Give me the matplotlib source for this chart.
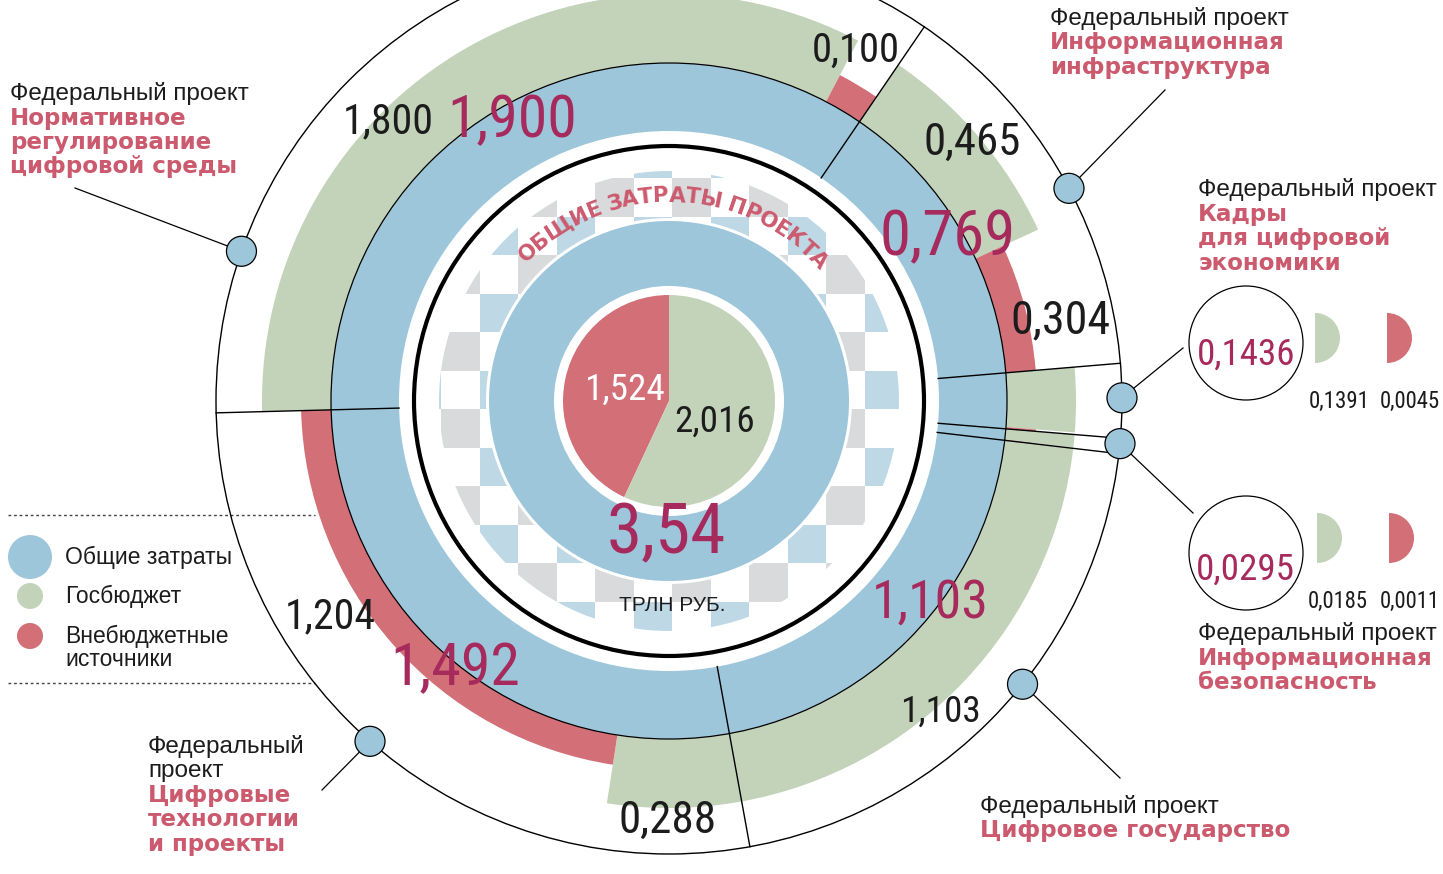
import numpy as np
import matplotlib
matplotlib.use("Agg")
import matplotlib.pyplot as plt
from matplotlib.patches import Wedge, Circle, Rectangle
from matplotlib.font_manager import FontProperties, fontManager

# ---- data ----
project_names = [
    ["Нормативное", "регулирование", "цифровой среды"],
    ["Информационная", "инфраструктура"],
    ["Кадры", "для цифровой", "экономики"],
    ["Информационная", "безопасность"],
    ["Цифровое государство"],
    ["Цифровые", "технологии", "и проекты"],
]
totals = [1.900, 0.769, 0.1436, 0.0295, 1.103, 1.492]
budget = [1.800, 0.465, 0.1391, 0.0185, 1.103, 0.288]
extra = [0.100, 0.304, 0.0045, 0.0011, 0.0, 1.204]
total_labels = ["1,900", "0,769", "0,1436", "0,0295", "1,103", "1,492"]
budget_labels = ["1,800", "0,465", "0,1391", "0,0185", "1,103", "0,288"]
extra_labels = ["0,100", "0,304", "0,0045", "0,0011", "", "1,204"]
grand_total = 3.54
grand_budget = 2.016
grand_extra = 1.524
grand_labels = ["3,54", "2,016", "1,524"]
legend_labels = [["Общие затраты"], ["Госбюджет"], ["Внебюджетные", "источники"]]

# ---- style ----
BLUE = "#9dc6db"
GREEN = "#c3d3ba"
RED = "#d26f77"
MAGENTA = "#a62a5c"
LABEL_RED = "#cc5a6e"
INK = "#1c1c1c"
CHECK_GREY = "#d9dadc"
CHECK_BLUE = "#bed8e5"

W, H = 1443, 874
CX, CY = 669, 401
R_OUT = 453
R_BLUE_IN, R_BLUE_OUT = 270, 338
R_GREEN, R_RED = 407, 368
START = 181.5


def pick_condensed():
    names = {f.name for f in fontManager.ttflist}
    for n in ["Liberation Sans Narrow", "Roboto Condensed", "Open Sans Condensed"]:
        if n in names:
            return dict(family=n)
    for f in fontManager.ttflist:
        if f.name == "DejaVu Sans" and f.stretch == "condensed":
            return dict(family="DejaVu Sans", stretch="condensed")
    return dict(family="DejaVu Sans")


NUMFONT = pick_condensed()
SANS = "Liberation Sans"
BOLD = "DejaVu Sans"

fig = plt.figure(figsize=(W / 100, H / 100), dpi=100)
ax = fig.add_axes([0, 0, 1, 1])
ax.set_xlim(0, W)
ax.set_ylim(H, 0)
ax.set_aspect("equal")
ax.axis("off")
renderer = fig.canvas.get_renderer()


def pt(a, r):
    a = np.radians(a)
    return CX + r * np.cos(a), CY - r * np.sin(a)


def seg(a_hi, a_lo, r, width, color, z):
    # visual angles (counter-clockwise, y up) -> data angles with flipped y
    ax.add_patch(Wedge((CX, CY), r, -a_hi, -a_lo, width=width, fc=color, ec="none", zorder=z))


def num(x, base, s, h, w, color=INK, z=10, slack=1.3):
    t = ax.text(x, base, s, ha="center", va="baseline", fontsize=h, color=color, zorder=z, **NUMFONT)
    bw = t.get_window_extent(renderer).width
    if bw > w * slack:
        t.set_fontsize(h * w * slack / bw)
    return t


# ---- checker decoration ----
clip = Circle((CX, CY), 230, transform=ax.transData)
for i in range(-7, 14):
    for j in range(-8, 9):
        if (i + j) % 2:
            continue
        r = Rectangle((441 + 38.5 * i, 332 + 38.5 * j), 38.5, 38.5,
                      fc=CHECK_GREY if i % 2 == 0 else CHECK_BLUE, ec="none", zorder=1)
        ax.add_patch(r)
        r.set_clip_path(clip)

# inner disc + pie
ax.add_patch(Circle((CX, CY), 183, fc="white", ec="none", zorder=2))
ax.add_patch(Circle((CX, CY), 180, fc=BLUE, ec="none", zorder=2))
ax.add_patch(Circle((CX, CY), 115, fc="white", ec="none", zorder=3))
red_span = grand_extra / (grand_extra + grand_budget) * 360
seg(90 + red_span, 90, 106, 106, RED, 4)
seg(90, 90 + red_span - 360, 106, 106, GREEN, 4)

# thick black ring
ax.add_patch(Circle((CX, CY), 255, fc="none", ec="black", lw=3, zorder=5))

# blue ring
ax.add_patch(Wedge((CX, CY), R_BLUE_OUT, 0, 360, width=R_BLUE_OUT - R_BLUE_IN, fc=BLUE, ec="none", zorder=5))

# sectors
unit = 360.0 / sum(totals)
bounds = [START]
a = START
for i, t in enumerate(totals):
    a_next = a - t * unit
    g = budget[i] / (budget[i] + extra[i])
    a_g = a - (a - a_next) * g
    seg(a, a_g, R_GREEN, R_GREEN - R_BLUE_OUT, GREEN, 5)
    if extra[i] > 0:
        seg(a_g, a_next, R_RED, R_RED - R_BLUE_OUT, RED, 5)
    bounds.append(a_next)
    a = a_next

ax.add_patch(Circle((CX, CY), R_BLUE_OUT, fc="none", ec="black", lw=0.9, zorder=6))
ax.add_patch(Circle((CX, CY), R_OUT, fc="none", ec="black", lw=1.0, zorder=6))
for b in bounds[:-1]:
    x0, y0 = pt(b, R_BLUE_IN)
    x1, y1 = pt(b, R_OUT)
    ax.plot([x0, x1], [y0, y1], color="black", lw=1.0, zorder=6)

# curved title
arc_txt = "ОБЩИЕ ЗАТРАТЫ ПРОЕКТА"
fp = FontProperties(family=BOLD, weight="bold", size=15.5)
ws = []
for ch in arc_txt:
    if ch == " ":
        ws.append(fp.get_size_in_points() * 100 / 72 * 0.3)
    else:
        ws.append(renderer.get_text_width_height_descent(ch, fp, ismath=False)[0])
r_arc = 199
r_mid = r_arc + 8
a0, a1 = 136, 41
arc_len = np.radians(a0 - a1) * r_mid
gap = (arc_len - sum(ws)) / (len(arc_txt) - 1)
pos = 0
for ch, w in zip(arc_txt, ws):
    c = pos + w / 2
    ang = a0 - np.degrees(c / r_mid)
    x, y = pt(ang, r_arc)
    ax.text(x, y, ch, fontproperties=fp, color=LABEL_RED, ha="center", va="baseline",
            rotation=ang - 90, rotation_mode="anchor", zorder=7)
    pos += w + gap

# centre numbers
num(624, 400, grand_labels[2], 35, 62, color="white")
num(715, 432, grand_labels[1], 37, 62)
num(666, 553, grand_labels[0], 66, 92, color=MAGENTA)
ax.text(672, 611, "ТРЛН РУБ.", ha="center", va="baseline", fontsize=15, family=SANS, color=INK, zorder=10)

# ring labels  (x, baseline, digit height, width, slack)
total_pos = [(512, 137, 59, 100, 1.3), (948, 255, 60, 105, 1.3), (1246, 365, 47, 88, 1.12),
             (1245, 580, 45, 90, 1.1), (930, 618, 60, 90, 1.3), (455, 685, 60, 100, 1.3)]
budget_pos = [(388, 133, 40, 70, 1.3), (972, 155, 40, 75, 1.3), (1339, 408, 25, 53, 1.15),
              (1338, 608, 25, 55, 1.1), (940, 722, 40, 62, 1.3), (668, 833, 40, 75, 1.3)]
extra_pos = [(856, 62, 40, 68, 1.3), (1060, 333, 41, 77, 1.3), (1410, 408, 25, 58, 1.05),
             (1410, 608, 25, 55, 1.1), None, (330, 628, 40, 70, 1.3)]
for i in range(len(totals)):
    x, y, h, w, s = total_pos[i]
    num(x, y, total_labels[i], h, w, color=MAGENTA, slack=s)
    x, y, h, w, s = budget_pos[i]
    num(x, y, budget_labels[i], h, w, slack=s)
    if extra_labels[i]:
        x, y, h, w, s = extra_pos[i]
        num(x, y, extra_labels[i], h, w, slack=s)

# small-project callouts
for (cx, cy), (gx, gy) in [((1246, 343), (1315, 338)), ((1246, 553), (1317, 538))]:
    ax.add_patch(Circle((cx, cy), 57, fc="none", ec="black", lw=0.9, zorder=8))
    ax.add_patch(Wedge((gx, gy), 25, -90, 90, fc=GREEN, ec="none", zorder=8))
    ax.add_patch(Wedge((gx + 72, gy), 25, -90, 90, fc=RED, ec="none", zorder=8))

# markers, leaders, project labels
marker_ang = [160.7, 28.0, 0.4, -5.4, -38.7, -131.3]
leader_end = [(75, 188), (1165, 90), (1183, 348), (1193, 513), (1120, 778), (322, 790)]
label_pos = [(10, 100), (1050, 25), (1198, 196), (1198, 640), (980, 813), (148, 753)]
head_lines = [["Федеральный проект"]] * 5 + [["Федеральный", "проект"]]
for i in range(len(totals)):
    mx, my = pt(marker_ang[i], R_OUT)
    ex, ey = leader_end[i]
    ax.plot([mx, ex], [my, ey], color="black", lw=0.9, zorder=8)
    ax.add_patch(Circle((mx, my), 15, fc=BLUE, ec="black", lw=0.9, zorder=9))
    x, y = label_pos[i]
    for ln in head_lines[i]:
        ax.text(x, y, ln, fontsize=17.5, family=SANS, color=INK, va="baseline", zorder=10)
        y += 24.5
    for ln in project_names[i]:
        ax.text(x, y, ln, fontsize=16.6, family=BOLD, weight="bold", color=LABEL_RED, va="baseline", zorder=10)
        y += 24.5

# legend
for yy in (515, 683):
    ax.plot([8, 315], [yy, yy], color="#444444", lw=1, ls=(0, (2, 2)), zorder=3)
for (yy, rr, c), lines in zip([(557, 22, BLUE), (596, 13, GREEN), (636, 13, RED)], legend_labels):
    ax.add_patch(Circle((30, yy), rr, fc=c, ec="none", zorder=9))
    for k, ln in enumerate(lines):
        ax.text(65, yy + 7 + 23 * k, ln, fontsize=16.5, family=SANS, color=INK, va="baseline", zorder=10)

fig.savefig("out.png", dpi=100)
